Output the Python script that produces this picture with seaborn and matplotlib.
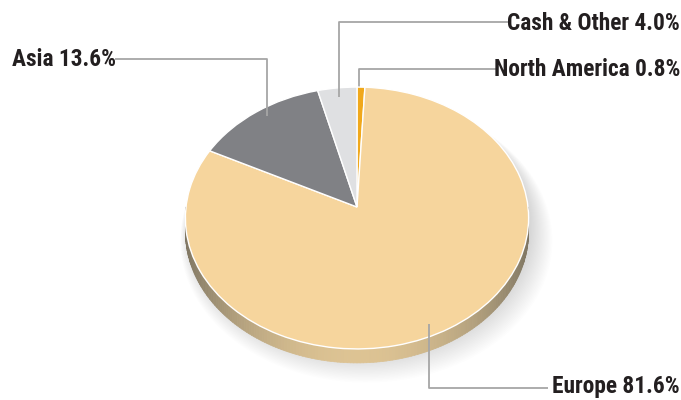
import numpy as np
import pandas as pd
import matplotlib
matplotlib.use("Agg")
import matplotlib.pyplot as plt
import matplotlib.transforms as mtransforms
from matplotlib import font_manager
from matplotlib.patches import Polygon
from matplotlib.collections import PolyCollection
import seaborn as sns

# ---- data ----
regions = ["North America", "Europe", "Asia", "Cash & Other"]
shares = [0.8, 81.6, 13.6, 4.0]
colors = ["#f0a81b", "#f6d59d", "#808185", "#dfe0e2"]

# ---- style ----
sns.set_theme(style="white")
avail = {f.name for f in font_manager.fontManager.ttflist}
fam = next((f for f in ["Liberation Sans Narrow", "Roboto Condensed",
                        "Open Sans Condensed", "DejaVu Sans Condensed"] if f in avail),
           "DejaVu Sans")
plt.rcParams["font.family"] = [fam, "DejaVu Sans"]

W, H = 681, 400
fig = plt.figure(figsize=(W / 100, H / 100), dpi=100)
fig.patch.set_facecolor("white")
ax = fig.add_axes([0, 0, 1, 1])


class Persp(mtransforms.Transform):
    """Tilted-disc perspective: unit circle -> pixel coordinates."""
    input_dims = output_dims = 2
    is_separable = False
    has_inverse = False

    def __init__(self, cx, cy, a, b, c, dx=0.0, dy=0.0, s=1.0):
        super().__init__()
        self.cx, self.cy, self.a, self.b, self.c = cx, cy, a, b, c
        self.dx, self.dy, self.s = dx, dy, s

    def transform_non_affine(self, xy):
        xy = np.asarray(xy, float).reshape(-1, 2)
        x, y = xy[:, 0], xy[:, 1]
        d = 1 + self.c * y
        X = self.cx + self.s * self.a * x / d + self.dx
        Y = self.cy - self.s * self.b * y / d + self.dy
        return np.column_stack([X, Y])


CX, CY, A, B, C = 357.0, 207.0, 171.0, 130.0, 0.084
DEPTH = 14

# pie top face through matplotlib's pie
df = pd.DataFrame({"region": regions, "share": shares, "color": colors})
wedges, _ = ax.pie(df["share"], colors=df["color"], startangle=90,
                   counterclock=False, radius=1.0, center=(0, 0),
                   wedgeprops=dict(edgecolor="white", linewidth=1.0))
top = Persp(CX, CY, A, B, C)
for w in wedges:
    w.set_transform(top + ax.transData)
    w.set_zorder(5)

# soft drop shadow
circle_pts = np.column_stack([np.cos(np.linspace(0, 2 * np.pi, 240)),
                              np.sin(np.linspace(0, 2 * np.pi, 240))])
for i in range(22):
    s = 0.99 + 0.0045 * i
    tr = Persp(CX, CY, A, B, C, dx=2 + 0.35 * i, dy=6 + 0.75 * i, s=s)
    ax.add_patch(Polygon(tr.transform(circle_pts), closed=True,
                         facecolor="black", edgecolor="none",
                         alpha=0.0075, zorder=1))

# side wall (bottom half of rim)
th = np.linspace(np.pi, 2 * np.pi, 181)
rim = top.transform(np.column_stack([np.cos(th), np.sin(th)]))
quads, qcols = [], []
dark = np.array([0x7e, 0x75, 0x62]) / 255
light = np.array([0xdd, 0xc3, 0x93]) / 255
for i in range(len(th) - 1):
    p0, p1 = rim[i], rim[i + 1]
    quads.append([p0, p1, p1 + [0, DEPTH], p0 + [0, DEPTH]])
    t = abs(np.sin(0.5 * (th[i] + th[i + 1])))
    t = t ** 2.2
    qcols.append(dark * (1 - t) + light * t)
ax.add_collection(PolyCollection(quads, facecolors=qcols, edgecolors=qcols,
                                 linewidths=0.5, zorder=3))

# ---- labels with leader lines (pixel layout) ----
line_kw = dict(color="#a6a6a6", linewidth=1.3, solid_capstyle="butt")
text_kw = dict(fontsize=16.8, fontweight="semibold", color="#231f20",
               va="center", zorder=7)

layout = {
    "Asia":          dict(path=[(115, 59), (267, 59), (267, 116)], xy=(12, 60), ha="left"),
    "Cash & Other":  dict(path=[(509, 22), (339, 22), (339, 97)], xy=(680, 23), ha="right"),
    "North America": dict(path=[(497, 69), (359, 69), (359, 100)], xy=(680, 70), ha="right"),
    "Europe":        dict(path=[(548, 388), (429, 388), (429, 324)], xy=(680, 387), ha="right"),
}
for reg, sh in zip(regions, shares):
    L = layout[reg]
    pts = np.array(L["path"])
    z = 6 if reg != "North America" else 4.5
    ax.plot(pts[:, 0], pts[:, 1], zorder=z, **line_kw)
    ax.text(L["xy"][0], L["xy"][1], f"{reg} {sh:.1f}%", ha=L["ha"], **text_kw)

ax.set_aspect("auto")
ax.set_xlim(0, W)
ax.set_ylim(H, 0)
ax.axis("off")

fig.savefig("out.png", dpi=100, facecolor="white")
